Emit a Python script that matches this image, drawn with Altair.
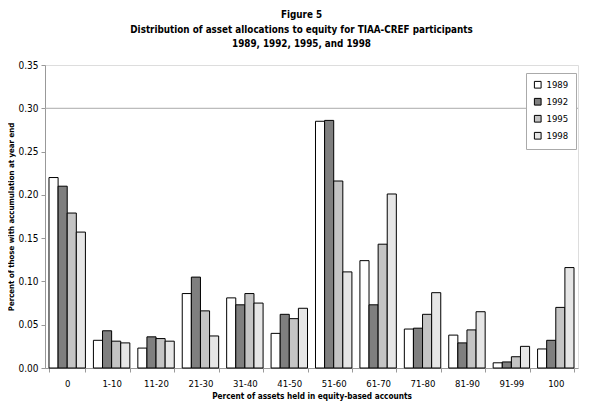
import altair as alt
import pandas as pd

categories = ["0", "1-10", "11-20", "21-30", "31-40", "41-50", "51-60",
              "61-70", "71-80", "81-90", "91-99", "100"]
years = ["1989", "1992", "1995", "1998"]
v1989 = [0.220, 0.032, 0.023, 0.086, 0.081, 0.040, 0.285, 0.124, 0.045, 0.038, 0.006, 0.022]
v1992 = [0.210, 0.043, 0.036, 0.105, 0.073, 0.062, 0.286, 0.073, 0.046, 0.029, 0.007, 0.032]
v1995 = [0.179, 0.031, 0.034, 0.066, 0.086, 0.057, 0.216, 0.143, 0.062, 0.044, 0.013, 0.070]
v1998 = [0.157, 0.029, 0.031, 0.037, 0.075, 0.069, 0.111, 0.201, 0.087, 0.065, 0.025, 0.116]
fills = ["#ffffff", "#7f7f7f", "#c4c4c4", "#e6e6e6"]

rows = []
for y, vals in zip(years, [v1989, v1992, v1995, v1998]):
    for c, v in zip(categories, vals):
        rows.append({"category": c, "year": y, "value": v})
df = pd.DataFrame(rows)

FONT = "DejaVu Sans Condensed"

bars = alt.Chart(df).mark_bar(stroke="black", strokeWidth=1).encode(
    x=alt.X("category:N", sort=categories,
            scale=alt.Scale(paddingInner=0.18, paddingOuter=0.09),
            axis=alt.Axis(title="Percent of assets held in equity-based accounts",
                          labelAngle=0, tickBand="extent", domainColor="#999999",
                          tickColor="#999999", tickSize=4, labelPadding=6,
                          titlePadding=5, labelFontSize=9.5, titleFontSize=8.2,
                          titleFontWeight="bold", labelFont=FONT, titleFont=FONT,
                          labelColor="black", titleColor="black")),
    xOffset=alt.XOffset("year:N", sort=years),
    y=alt.Y("value:Q",
            scale=alt.Scale(domain=[0, 0.35], nice=False),
            axis=alt.Axis(title="Percent of those with accumulation at year end",
                          values=[0, 0.05, 0.10, 0.15, 0.20, 0.25, 0.30, 0.35],
                          format=".2f", grid=False, domainColor="#999999",
                          tickColor="#999999", tickSize=4, labelPadding=3,
                          titlePadding=2, labelFontSize=10, titleFontSize=7.8,
                          titleFontWeight="bold", labelFont=FONT, titleFont=FONT,
                          labelColor="black", titleColor="black")),
    fill=alt.Fill("year:N", sort=years,
                  scale=alt.Scale(domain=years, range=fills),
                  legend=alt.Legend(title=None, orient="none", legendX=481, legendY=8,
                                    symbolType="square", symbolSize=45,
                                    symbolStrokeColor="black", symbolStrokeWidth=1,
                                    labelFont=FONT, labelFontSize=9.5, labelColor="black",
                                    strokeColor="#aaaaaa", padding=7, rowPadding=5,
                                    fillColor="white")),
)

grid = alt.Chart(pd.DataFrame({"g": [0.30]})).mark_rule(color="#aaaaaa", strokeWidth=1).encode(
    y=alt.Y("g:Q", scale=alt.Scale(domain=[0, 0.35], nice=False))
)

chart = alt.layer(grid, bars).properties(
    width=533, height=303,
    autosize=alt.AutoSizeParams(type="none"),
    padding={"left": 37, "top": 57, "right": 16, "bottom": 40},
    title=alt.TitleParams(
        text=["Figure 5",
              "Distribution of asset allocations to equity for TIAA-CREF participants",
              "1989, 1992, 1995, and 1998"],
        font=FONT, fontSize=9.8, fontWeight="bold", lineHeight=14.5,
        anchor="middle", dx=-10, offset=11, color="black"),
).configure_view(stroke="#999999").configure(background="white")

chart.save("out.html", embed_options={"renderer": "svg", "actions": False})
